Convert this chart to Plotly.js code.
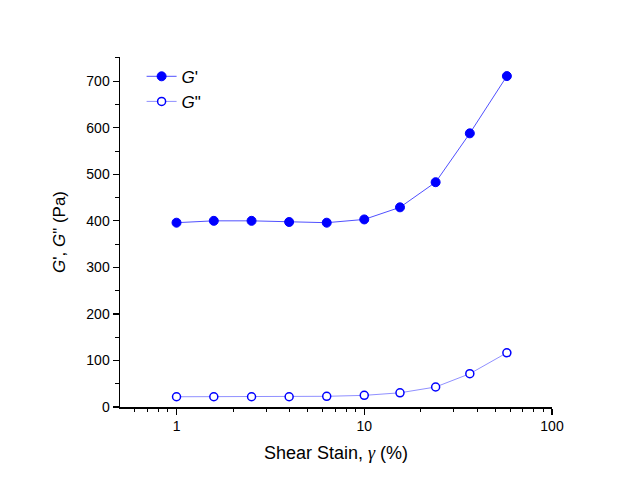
<!DOCTYPE html>
<html>
<head>
<meta charset="utf-8">
<script src="https://cdn.plot.ly/plotly-3.0.1.min.js"></script>
<style>html,body{margin:0;padding:0;background:#fff;}#chart{width:629px;height:479px;}</style>
</head>
<body>
<div id="chart"></div>
<script>
const strain = [1, 1.58, 2.51, 3.98, 6.31, 10, 15.5, 24, 36.5, 57.5];
const gPrime = [396, 400, 400, 397.5, 396, 403, 429, 483, 588, 711];
const gDoublePrime = [22, 22, 22, 22, 23, 25, 30.5, 43, 71.5, 116.5];
const seriesNames = ["<i>G</i>'", '<i>G</i>"'];

const traces = [
  {
    x: strain, y: gPrime, name: seriesNames[0], type: 'scatter', mode: 'lines+markers',
    line: {color: '#5050ff', width: 1},
    marker: {symbol: 'circle', size: 9, color: '#0000ff', line: {color: '#0000ff', width: 1}}
  },
  {
    x: strain, y: gDoublePrime, name: seriesNames[1], type: 'scatter', mode: 'lines+markers',
    line: {color: '#9090ff', width: 1},
    marker: {symbol: 'circle', size: 8, color: '#ffffff', line: {color: '#0000ff', width: 1.5}}
  }
];

const tickFont = {family: 'Liberation Sans, Arial, sans-serif', size: 14, color: '#000'};
const layout = {
  width: 629, height: 479,
  margin: {l: 120, r: 77, t: 57, b: 72},
  paper_bgcolor: '#fff', plot_bgcolor: '#fff',
  showlegend: true,
  legend: {x: 0.05, y: 0.995, xanchor: 'left', yanchor: 'top', bgcolor: 'rgba(0,0,0,0)',
           font: {family: 'Liberation Sans, Arial, sans-serif', size: 17, color: '#000'}},
  xaxis: {
    type: 'log', range: [Math.log10(0.5), 2],
    showgrid: false, zeroline: false, showline: true, linecolor: '#000', linewidth: 1.5,
    ticks: 'outside', ticklen: 6, tickwidth: 1.2, tickcolor: '#000',
    tickvals: [1, 10, 100], ticktext: ['1', '10', '100'],
    tickfont: tickFont,
    minor: {ticks: 'outside', ticklen: 3.5, tickwidth: 1, tickcolor: '#000',
            tickvals: [0.6,0.7,0.8,0.9,2,3,4,5,6,7,8,9,20,30,40,50,60,70,80,90]},
    title: {text: 'Shear Stain, <span style="font-family:Liberation Serif"><i>γ</i></span> (%)',
            font: {family: 'Liberation Sans, Arial, sans-serif', size: 18, color: '#000'}, standoff: 13},
    automargin: false
  },
  yaxis: {
    range: [0, 752],
    showgrid: false, zeroline: false, showline: true, linecolor: '#000', linewidth: 1.5,
    ticks: 'outside', ticklen: 6, tickwidth: 1.2, tickcolor: '#000',
    dtick: 100, tick0: 0, tickfont: tickFont,
    minor: {ticks: 'outside', ticklen: 3.5, tickwidth: 1, tickcolor: '#000', dtick: 50},
    title: {text: "<i>G</i>', <i>G</i>\" (Pa)",
            font: {family: 'Liberation Sans, Arial, sans-serif', size: 17, color: '#000'}, standoff: 16},
    automargin: false
  }
};

Plotly.newPlot('chart', traces, layout, {displayModeBar: false, staticPlot: true});
</script>
</body>
</html>
